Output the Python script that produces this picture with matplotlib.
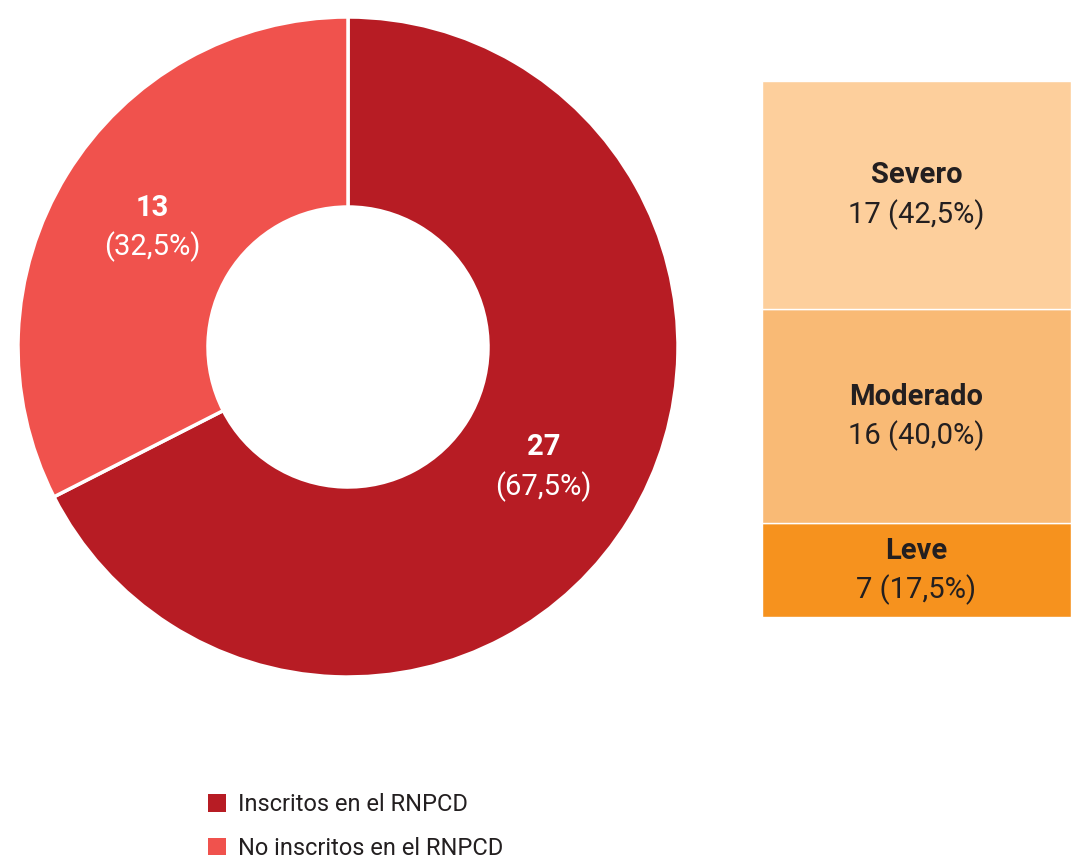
import matplotlib.pyplot as plt
from matplotlib.patches import Patch
import numpy as np

# datos
donut_labels = ["Inscritos en el RNPCD", "No inscritos en el RNPCD"]
donut_values = [27, 13]
donut_pct = ["67,5%", "32,5%"]
donut_colors = ["#B71C24", "#F0524D"]

sev_labels = ["Leve", "Moderado", "Severo"]
sev_values = [7, 16, 17]
sev_pct = ["17,5%", "40,0%", "42,5%"]
sev_colors = ["#F6921E", "#F9BA75", "#FDCF9C"]

plt.rcParams['font.family'] = ['Roboto', 'DejaVu Sans']
W, H = 1071, 861
fig = plt.figure(figsize=(W / 100, H / 100), dpi=100)

# donut
cx, cy, R = 348, 347, 330
ax = fig.add_axes([(cx - R) / W, 1 - (cy + R) / H, 2 * R / W, 2 * R / H])
wedges, _ = ax.pie(donut_values, colors=donut_colors, startangle=90, counterclock=False,
                   radius=1, wedgeprops=dict(width=190 / 330, edgecolor="white", linewidth=2.5))
ax.set_xlim(-1, 1)
ax.set_ylim(-1, 1)
ax.set_aspect("equal")
ax.axis("off")
for w, v, p in zip(wedges, donut_values, donut_pct):
    ang = np.deg2rad((w.theta1 + w.theta2) / 2)
    x, y = 0.695 * np.cos(ang), 0.695 * np.sin(ang)
    ax.annotate(str(v), (x, y), xytext=(0, 14), textcoords="offset points",
                ha="center", va="center", color="white", fontsize=21, fontweight="bold")
    ax.annotate("(" + p + ")", (x, y), xytext=(0, -14), textcoords="offset points",
                ha="center", va="center", color="white", fontsize=21)

# barra apilada
bx0, bx1, by0, by1 = 762, 1071, 81, 617
ax2 = fig.add_axes([bx0 / W, 1 - by1 / H, (bx1 - bx0) / W, (by1 - by0) / H])
bottom = 0
for lab, v, p, c in zip(sev_labels, sev_values, sev_pct, sev_colors):
    ax2.bar(0.5, v, width=1, bottom=bottom, color=c, edgecolor="white", linewidth=1)
    mid = bottom + v / 2
    ax2.annotate(lab, (0.5, mid), xytext=(0, 14), textcoords="offset points",
                 ha="center", va="center", fontsize=21, fontweight="bold", color="#231F20")
    ax2.annotate("%d (%s)" % (v, p), (0.5, mid), xytext=(0, -14), textcoords="offset points",
                 ha="center", va="center", fontsize=21, color="#231F20")
    bottom += v
ax2.set_xlim(0, 1)
ax2.set_ylim(0, sum(sev_values))
ax2.axis("off")

# leyenda
handles = [Patch(facecolor=c, edgecolor="none") for c in donut_colors]
fig.legend(handles, donut_labels, loc="upper left", bbox_to_anchor=(187 / W, 1 - 772 / H),
           frameon=False, handlelength=0.75, handleheight=0.75,
           handletextpad=0.5, labelspacing=0.88, labelcolor="#231F20",
           prop={"size": 17})

fig.savefig("out.png", dpi=100)
